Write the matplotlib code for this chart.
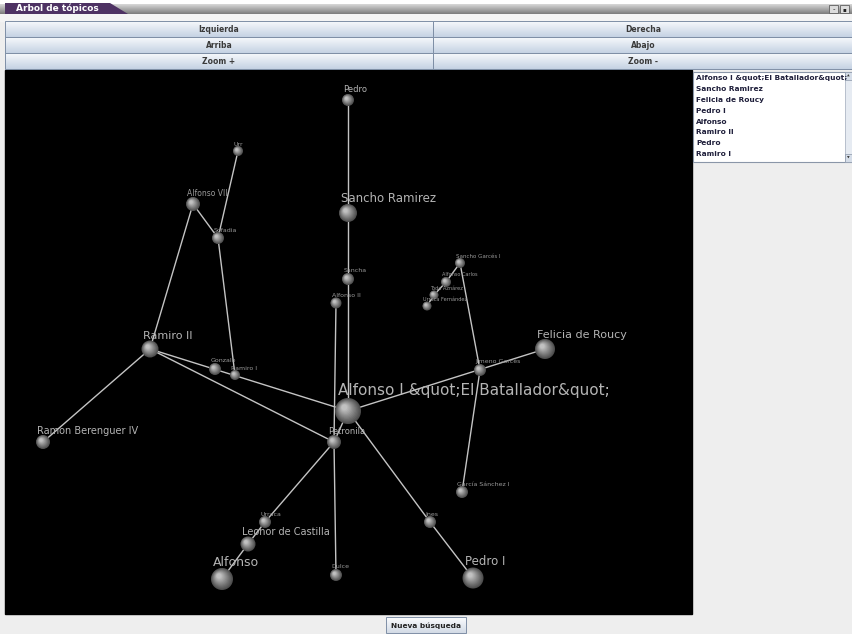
import numpy as np
import matplotlib
matplotlib.use("Agg")
import matplotlib.pyplot as plt
from matplotlib.patches import Rectangle, Circle, Polygon

# ---------------- data ----------------
window_title = "Arbol de tópicos"
button_left = ["Izquierda", "Arriba", "Zoom +"]
button_right = ["Derecha", "Abajo", "Zoom -"]
list_items = ["Alfonso I &quot;El Batallador&quot;", "Sancho Ramirez", "Felicia de Roucy",
              "Pedro I", "Alfonso", "Ramiro II", "Pedro", "Ramiro I"]
bottom_button = "Nueva búsqueda"

node_names = ["Pedro", "Sancho Ramirez", "Sancha", "Alfonso II", "Alfonso I &quot;El Batallador&quot;",
              "Petronila", "Ramiro II", "Ramon Berenguer IV", "Alfonso VII", "Urr", "Sofadia",
              "Gonzalo", "Ramiro I", "Sancho Garcés I", "Alfonso Carlos", "Toda Aznárez",
              "Urraca Fernández", "Jimeno Garcés", "Felicia de Roucy", "García Sánchez I",
              "Ines", "Pedro I", "Urraca", "Leonor de Castilla", "Alfonso", "Dulce"]
node_x = [348, 348, 348, 336, 348, 334, 150, 43, 193, 238, 218, 215, 235, 460, 446, 434, 427,
          480, 545, 462, 430, 473, 265, 248, 222, 336]
node_y = [100, 213, 279, 303, 411, 442, 349, 442, 204, 151, 238, 369, 375, 263, 282, 295, 306,
          370, 349, 492, 522, 578, 522, 544, 579, 575]
node_r = [6, 9, 6, 5.5, 13, 7, 8.5, 7, 7, 5, 6, 6, 5, 5, 5, 4.5, 4.5, 6, 10, 6, 6, 10.5, 6, 7.5, 11, 6]
label_pt = [6, 8.5, 4.5, 4.5, 11, 6, 8, 7, 5.5, 4.5, 4.5, 4.5, 4.5, 4, 3.6, 3.6, 3.6, 4.5,
            8, 4.5, 4.5, 8.5, 4.5, 7, 9, 4.5]

edges = [("Pedro", "Sancho Ramirez"), ("Sancho Ramirez", "Alfonso I &quot;El Batallador&quot;"),
         ("Alfonso II", "Petronila"), ("Alfonso I &quot;El Batallador&quot;", "Petronila"),
         ("Ramiro II", "Alfonso I &quot;El Batallador&quot;"), ("Ramiro II", "Petronila"),
         ("Ramiro II", "Ramon Berenguer IV"), ("Ramiro II", "Alfonso VII"),
         ("Alfonso VII", "Sofadia"), ("Urr", "Sofadia"), ("Sofadia", "Ramiro I"),
         ("Alfonso I &quot;El Batallador&quot;", "Felicia de Roucy"),
         ("Sancho Garcés I", "Jimeno Garcés"), ("Jimeno Garcés", "García Sánchez I"),
         ("Sancho Garcés I", "Alfonso Carlos"), ("Alfonso Carlos", "Toda Aznárez"),
         ("Toda Aznárez", "Urraca Fernández"),
         ("Alfonso I &quot;El Batallador&quot;", "Ines"), ("Ines", "Pedro I"),
         ("Petronila", "Urraca"), ("Urraca", "Leonor de Castilla"), ("Leonor de Castilla", "Alfonso"),
         ("Petronila", "Dulce")]

# ---------------- figure ----------------
W, H = 853, 634
fig = plt.figure(figsize=(W / 100, H / 100), dpi=100)
fig.patch.set_facecolor("#eeeeee")
ax = fig.add_axes([0, 0, 1, 1])
ax.set_axis_off()


def grad_rect(x0, y0, x1, y1, ctop, cbot, z=1):
    c1 = np.array(matplotlib.colors.to_rgb(ctop))
    c2 = np.array(matplotlib.colors.to_rgb(cbot))
    t = np.linspace(0, 1, 32)[:, None]
    img = (c1[None, :] * (1 - t) + c2[None, :] * t)[:, None, :]
    ax.imshow(img, extent=[x0, x1, y1, y0], origin="upper", aspect="auto",
              interpolation="bilinear", zorder=z)


# title bar
ax.add_patch(Rectangle((0, 0), W, 4, color="#ffffff", zorder=0))
grad_rect(0, 4, W, 14, "#d8d8d8", "#7c7c7c", z=1)
ax.add_patch(Polygon([[5, 3], [110, 3], [128, 14], [5, 14]], closed=True,
                     facecolor="#4e3263", edgecolor="none", zorder=2))
ax.text(16, 8.5, window_title, color="white", fontsize=6.5, fontweight="bold",
        va="center", ha="left", zorder=3)
for bx in (829, 840):
    ax.add_patch(Rectangle((bx, 5), 9, 8, facecolor="#dcdcdc", edgecolor="#606060", lw=0.6, zorder=3))
ax.text(833.5, 9.5, "-", fontsize=5, ha="center", va="center", color="#222222", zorder=4)
ax.text(844.5, 9.5, "▪", fontsize=4, ha="center", va="center", color="#222222", zorder=4)
ax.add_patch(Rectangle((0, 14), W, 7, color="#f4f4f4", zorder=0))

# button rows
rows = [(21, 37), (37, 53), (53, 69)]
for (y0, y1), lt, rt in zip(rows, button_left, button_right):
    for x0, x1, t in ((5, 433, lt), (433, 853, rt)):
        grad_rect(x0, y0, x1, y1, "#f7f9fc", "#c5d2e3", z=1)
        ax.add_patch(Rectangle((x0, y0), x1 - x0, y1 - y0, facecolor="none",
                               edgecolor="#7f8fa6", lw=0.7, zorder=2))
        ax.text((x0 + x1) / 2, (y0 + y1) / 2 + 0.5, t, fontsize=5.5, fontweight="bold",
                color="#3a3a3a", ha="center", va="center", zorder=3)

# black 3D panel
ax.add_patch(Rectangle((5, 70), 687, 544, color="#000000", zorder=1))

# list box
ax.add_patch(Rectangle((693, 72), 159, 90, facecolor="white", edgecolor="#8a96a8", lw=0.8, zorder=1))
ax.add_patch(Rectangle((845, 72), 7, 90, facecolor="#e6ebf2", edgecolor="#a0aabb", lw=0.5, zorder=2))
ax.add_patch(Rectangle((845, 72), 7, 8, facecolor="#d5dde8", edgecolor="#8a96a8", lw=0.5, zorder=3))
ax.add_patch(Rectangle((845, 154), 7, 8, facecolor="#d5dde8", edgecolor="#8a96a8", lw=0.5, zorder=3))
ax.text(848.5, 76, "▲", fontsize=2.5, ha="center", va="center", color="#333", zorder=4)
ax.text(848.5, 158, "▼", fontsize=2.5, ha="center", va="center", color="#333", zorder=4)
for i, item in enumerate(list_items):
    ax.text(696, 78 + i * 10.9, item, fontsize=5.3, fontweight="bold", color="#1e1e3a",
            ha="left", va="center", zorder=3, clip_on=True)

# bottom button
grad_rect(386, 617, 466, 633, "#fbfcfe", "#d3dbe6", z=1)
ax.add_patch(Rectangle((386, 617), 80, 16, facecolor="none", edgecolor="#7f8fa6", lw=0.7, zorder=2))
ax.text(426, 625.5, bottom_button, fontsize=5.3, fontweight="bold", color="#222222",
        ha="center", va="center", zorder=3)

# graph edges
idx = {n: i for i, n in enumerate(node_names)}
for a, b in edges:
    i, j = idx[a], idx[b]
    ax.plot([node_x[i], node_x[j]], [node_y[i], node_y[j]], color="#c4c4c4", lw=1.0,
            solid_capstyle="round", zorder=4)

# nodes (shaded spheres) and labels
nshade = 12
for n, x, y, r, fs in zip(node_names, node_x, node_y, node_r, label_pt):
    for k in range(nshade):
        f = k / nshade
        rr = r * (1 - 0.85 * f)
        g = 0.30 + 0.50 * f
        ax.add_patch(Circle((x - 0.3 * r * f, y - 0.3 * r * f), rr, color=(g, g, g), zorder=5 + k * 0.01,
                            lw=0))
    col = "#b4b4b4" if fs >= 6 else "#9a9a9a"
    ax.text(x - 0.8 * r, y - r + 0.5, n, fontsize=fs, color=col, ha="left", va="bottom", zorder=6)

ax.set_xlim(0, W)
ax.set_ylim(H, 0)
fig.savefig("out.png", dpi=100, facecolor=fig.get_facecolor())
